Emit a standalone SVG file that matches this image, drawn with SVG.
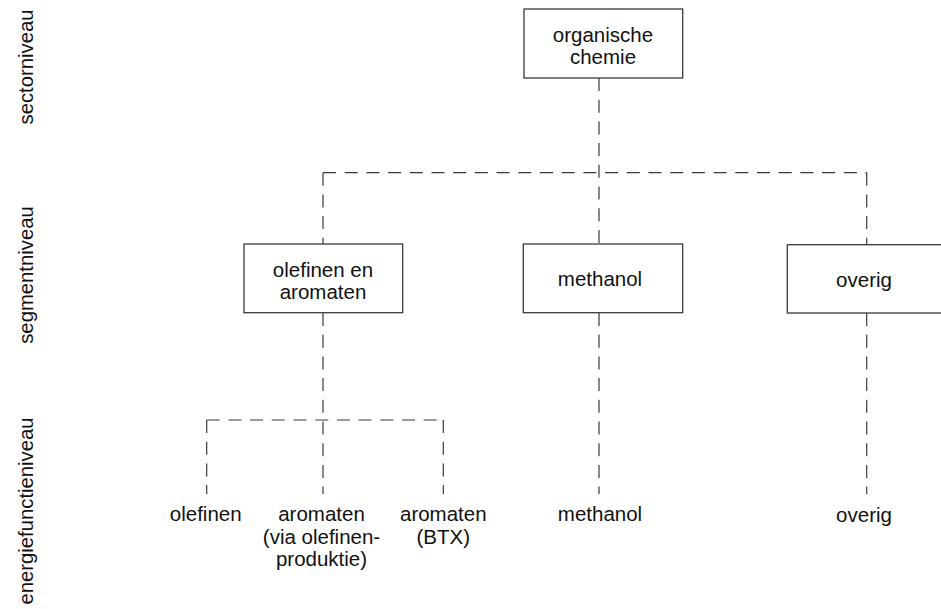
<svg xmlns="http://www.w3.org/2000/svg" width="941" height="609" viewBox="0 0 941 609">
  <style>
    .box { fill: #ffffff; stroke: #3a3a3a; stroke-width: 1.3; }
    .link { fill: none; stroke: #3a3a3a; stroke-width: 1.2; stroke-dasharray: 13 8.7; }
    .t { font-family: "Liberation Sans", Arial, sans-serif; font-size: 20.5px; fill: #111111; text-anchor: middle; }
    .lvl { font-family: "Liberation Sans", Arial, sans-serif; font-size: 20.3px; fill: #111111; text-anchor: middle; }
  </style>

  <!-- level labels, rotated along the left margin -->
  <g id="levels">
    <text class="lvl" transform="translate(32.5,67) rotate(-90)">sectorniveau</text>
    <text class="lvl" transform="translate(32.5,275) rotate(-90)">segmentniveau</text>
    <text class="lvl" transform="translate(32.5,511) rotate(-90)">energiefunctieniveau</text>
  </g>

  <!-- dashed connectors -->
  <g id="connectors">
    <line class="link" x1="599" y1="78" x2="599" y2="244"/>
    <line class="link" x1="323" y1="172.7" x2="866.7" y2="172.7"/>
    <line class="link" x1="323" y1="172.7" x2="323" y2="244"/>
    <line class="link" x1="866.7" y1="172.7" x2="866.7" y2="244.7"/>

    <line class="link" x1="323" y1="313" x2="323" y2="494"/>
    <line class="link" x1="206.7" y1="420" x2="443.3" y2="420"/>
    <line class="link" x1="206.7" y1="420" x2="206.7" y2="494"/>
    <line class="link" x1="443.3" y1="420" x2="443.3" y2="494"/>

    <line class="link" x1="599" y1="313" x2="599" y2="494"/>
    <line class="link" x1="866.7" y1="313" x2="866.7" y2="494"/>
  </g>

  <!-- sector -->
  <g id="organische-chemie">
    <rect class="box" x="524" y="9" width="158.7" height="69"/>
    <text class="t" x="603" y="41.5">organische</text>
    <text class="t" x="603" y="64">chemie</text>
  </g>

  <!-- segments -->
  <g id="olefinen-en-aromaten">
    <rect class="box" x="244" y="244" width="158.7" height="68.7"/>
    <text class="t" x="323" y="277">olefinen en</text>
    <text class="t" x="323" y="299">aromaten</text>
  </g>
  <g id="methanol">
    <rect class="box" x="523.3" y="244" width="159.4" height="68.7"/>
    <text class="t" x="600" y="286">methanol</text>
  </g>
  <g id="overig">
    <rect class="box" x="787.3" y="244.7" width="160" height="68.3"/>
    <text class="t" x="864" y="286.5">overig</text>
  </g>

  <!-- energy functions -->
  <g id="ef-olefinen">
    <text class="t" x="205.7" y="521">olefinen</text>
  </g>
  <g id="ef-aromaten-via-olefinen">
    <text class="t" x="321.5" y="521">aromaten</text>
    <text class="t" x="321.5" y="543.5">(via olefinen-</text>
    <text class="t" x="321.5" y="566">produktie)</text>
  </g>
  <g id="ef-aromaten-btx">
    <text class="t" x="443.3" y="521">aromaten</text>
    <text class="t" x="443.3" y="543.5">(BTX)</text>
  </g>
  <g id="ef-methanol">
    <text class="t" x="600" y="521">methanol</text>
  </g>
  <g id="ef-overig">
    <text class="t" x="864" y="522">overig</text>
  </g>
</svg>
